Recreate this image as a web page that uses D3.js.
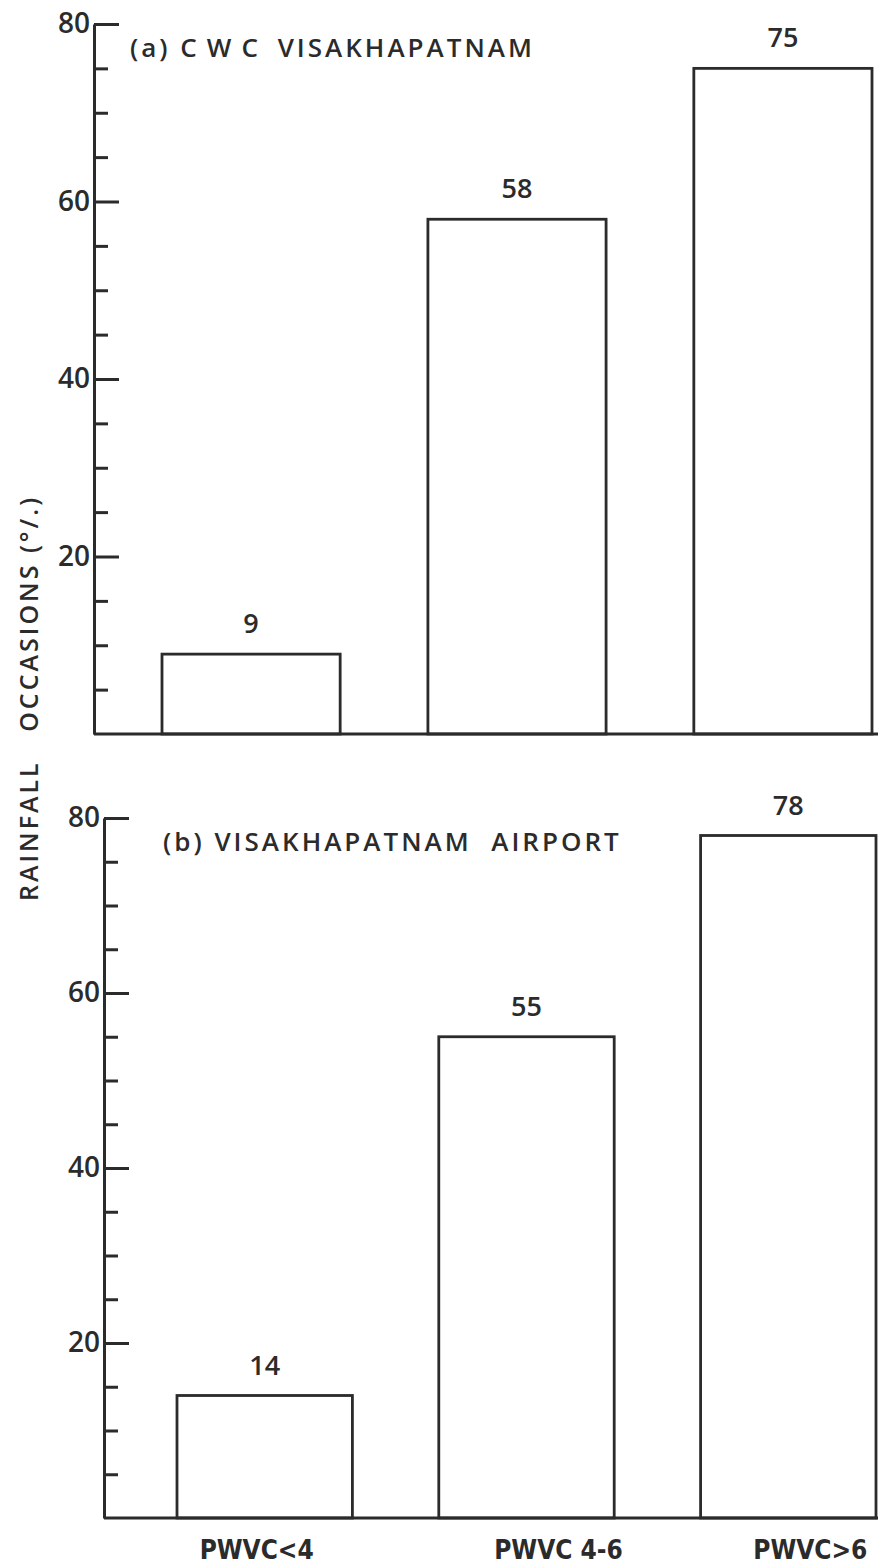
<!DOCTYPE html>
<html>
<head>
<meta charset="utf-8">
<script src="https://cdn.jsdelivr.net/npm/d3@7"></script>
<style>
  body { margin: 0; background: #fff; }
  svg { display: block; }
  .tick text { font-family: 'Open Sans', sans-serif; font-weight: 600; font-size: 28px; fill: #2b2b2b; }
  .domain, .tick line { stroke: #2b2b2b; stroke-width: 3; }
</style>
</head>
<body>
<svg width="878" height="1564"></svg>
<script>
// data
var categories = ['PWVC<4', 'PWVC 4-6', 'PWVC>6']
var cwcValues = [9, 58, 75]
var airportValues = [14, 55, 78]
var panelTitles = ['(a) CWC VISAKHAPATNAM', '(b) VISAKHAPATNAM AIRPORT']
var majorTicks = [20, 40, 60, 80]
var minorTicks = [5, 10, 15, 25, 30, 35, 45, 50, 55, 65, 70, 75]

var ink = '#2b2b2b'
var svg = d3.select('svg')

// layout of the two stacked panels
var panels = [
  { values: cwcValues, title: panelTitles[0], axisX: 94, y0: 734, y1: 24, barRange: [162, 872], titleX: 130, titleY: 57 },
  { values: airportValues, title: panelTitles[1], axisX: 104, y0: 1518, y1: 818, barRange: [177, 876], titleX: 163, titleY: 851 }
]

panels.forEach(function (p, pi) {
  var g = svg.append('g')

  var y = d3.scaleLinear().domain([0, 80]).range([p.y0, p.y1])
  var x = d3.scaleBand().domain(categories).range(p.barRange)
    .paddingInner(0.33).paddingOuter(0)

  // minor ticks
  g.append('g')
    .attr('transform', 'translate(' + p.axisX + ',0)')
    .call(d3.axisLeft(y).tickValues(minorTicks).tickSizeInner(-14).tickSizeOuter(0).tickFormat(''))
    .call(function (s) { s.select('.domain').remove() })

  // major ticks + labels
  g.append('g')
    .attr('transform', 'translate(' + p.axisX + ',0)')
    .call(d3.axisLeft(y).tickValues(majorTicks).tickSizeInner(-25).tickSizeOuter(0).tickPadding(4))

  // baseline
  g.append('line')
    .attr('x1', p.axisX).attr('x2', 878)
    .attr('y1', y(0)).attr('y2', y(0))
    .attr('stroke', ink).attr('stroke-width', 3)

  // bars
  g.selectAll('rect')
    .data(p.values)
    .enter()
    .append('rect')
    .attr('x', function (d, i) { return x(categories[i]) })
    .attr('y', function (d) { return y(d) })
    .attr('width', x.bandwidth())
    .attr('height', function (d) { return y(0) - y(d) })
    .attr('fill', 'none')
    .attr('stroke', ink)
    .attr('stroke-width', 2.8)

  // value labels
  g.selectAll('.val')
    .data(p.values)
    .enter()
    .append('text')
    .attr('class', 'val')
    .attr('x', function (d, i) { return x(categories[i]) + x.bandwidth() / 2 })
    .attr('y', function (d) { return y(d) - 21 })
    .attr('text-anchor', 'middle')
    .style('font-family', "'Open Sans', sans-serif")
    .style('font-weight', 600)
    .style('font-size', '27px')
    .attr('fill', ink)
    .text(function (d) { return d })

  // panel title
  var parts = p.title.split(' ')
  var t = g.append('text')
    .attr('x', p.titleX).attr('y', p.titleY)
    .style('font-family', "'Open Sans', sans-serif")
    .style('font-weight', 600)
    .style('font-size', '26px')
    .style('letter-spacing', '3px')
    .attr('fill', ink)
    .attr('xml:space', 'preserve')
  if (pi === 0) {
    t.append('tspan').text(parts[0] + ' ')
    t.append('tspan').style('letter-spacing', '10px').text(parts[1])
    t.append('tspan').text(' ' + parts[2])
  } else {
    t.append('tspan').text(parts[0] + ' ' + parts[1] + '  ' + parts[2])
  }

  // category labels under the lower panel
  if (pi === 1) {
    var labelShift = [-8, 32, 22]
    g.selectAll('.cat')
      .data(categories)
      .enter()
      .append('text')
      .attr('class', 'cat')
      .attr('x', function (d, i) { return x(d) + x.bandwidth() / 2 + labelShift[i] })
      .attr('y', 1559)
      .attr('text-anchor', 'middle')
      .style('font-family', "'Liberation Sans Narrow', 'DejaVu Sans Condensed', sans-serif")
      .style('font-weight', 700)
      .style('font-size', '26px')
      .attr('fill', ink)
      .text(function (d) { return d })
  }
})

// shared y label
svg.append('text')
  .attr('transform', 'translate(38,698) rotate(-90)')
  .attr('text-anchor', 'middle')
  .style('font-family', "'Open Sans', sans-serif")
  .style('font-weight', 600)
  .style('font-size', '25px')
  .style('letter-spacing', '3px')
  .attr('fill', ink)
  .attr('xml:space', 'preserve')
  .text('RAINFALL   OCCASIONS (°/.)')
</script>
</body>
</html>
